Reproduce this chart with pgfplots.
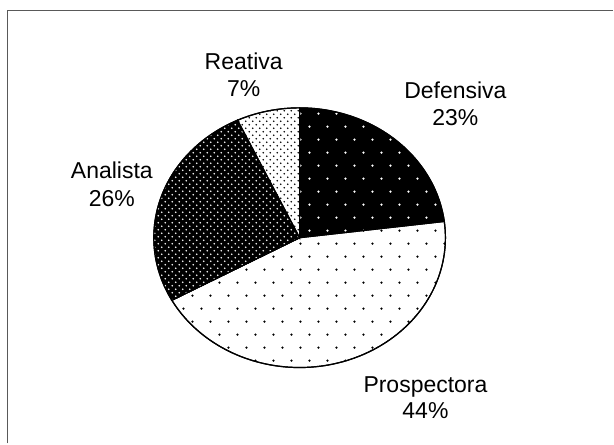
\documentclass[border=0pt]{standalone}
\usepackage{pgfplots}
\pgfplotsset{compat=1.18}
\usepackage{fontspec}
\setmainfont{Liberation Sans}
\usetikzlibrary{patterns}

\pgfdeclarepatternformonly{sparsedots}{\pgfqpoint{0pt}{0pt}}{\pgfqpoint{18pt}{26pt}}{\pgfqpoint{18pt}{26pt}}{%
  \pgfpathcircle{\pgfqpoint{4.5pt}{6.5pt}}{1.25pt}%
  \pgfpathcircle{\pgfqpoint{13.5pt}{19.5pt}}{1.25pt}%
  \pgfusepath{fill}}
\pgfdeclarepatternformonly{densedots}{\pgfqpoint{0pt}{0pt}}{\pgfqpoint{7pt}{7pt}}{\pgfqpoint{7pt}{7pt}}{%
  \pgfpathcircle{\pgfqpoint{1.75pt}{1.75pt}}{0.9pt}%
  \pgfpathcircle{\pgfqpoint{5.25pt}{5.25pt}}{0.9pt}%
  \pgfusepath{fill}}

% values (percent), clockwise from the top
\def\vDef{23}
\def\vPro{44}
\def\vAna{26}
\def\vRea{7}

\begin{document}
\begin{tikzpicture}
\pgfmathsetmacro\aA{90}
\pgfmathsetmacro\aB{90-3.6*\vDef}
\pgfmathsetmacro\aC{\aB-3.6*\vPro}
\pgfmathsetmacro\aD{\aC-3.6*\vAna}
\pgfmathsetmacro\aE{\aD-3.6*\vRea}
\begin{axis}[
  scale only axis, width=614pt, height=444pt,
  xmin=0, xmax=614, ymin=0, ymax=444, y dir=reverse,
  hide axis, clip=false,
  every axis plot/.append style={line width=1.2pt, draw=black, samples=90, variable=\t},
]
\path (axis cs:0,0) rectangle (axis cs:614,444);
% frame
\draw[black!65, line width=1.6pt] (axis cs:7.5,444) -- (axis cs:7.5,10.5) -- (axis cs:614,10.5);

% Defensiva
\addplot[fill=black, postaction={pattern=sparsedots, pattern color=white}, domain=\aB:\aA]
  ({300+146*cos(\t)},{238-130*sin(\t)}) -- (axis cs:300,238) -- cycle;
% Prospectora
\addplot[fill=white, postaction={pattern=sparsedots, pattern color=black}, domain=\aC:\aB]
  ({300+146*cos(\t)},{238-130*sin(\t)}) -- (axis cs:300,238) -- cycle;
% Analista
\addplot[fill=black, postaction={pattern=densedots, pattern color=white}, domain=\aD:\aC]
  ({300+146*cos(\t)},{238-130*sin(\t)}) -- (axis cs:300,238) -- cycle;
% Reativa
\addplot[fill=white, postaction={pattern=densedots, pattern color=black}, domain=\aE:\aD]
  ({300+146*cos(\t)},{238-130*sin(\t)}) -- (axis cs:300,238) -- cycle;

\tikzset{lab/.style={anchor=base, font=\fontsize{23}{27}\selectfont, inner sep=0pt, text=black}}
\node[lab] at (axis cs:456,99) {Defensiva};
\node[lab] at (axis cs:456,126) {23\%};
\node[lab] at (axis cs:426,393) {Prospectora};
\node[lab] at (axis cs:426,419) {44\%};
\node[lab] at (axis cs:112,179) {Analista};
\node[lab] at (axis cs:112,207) {26\%};
\node[lab] at (axis cs:244,70) {Reativa};
\node[lab] at (axis cs:244,97) {7\%};
\end{axis}
\end{tikzpicture}
\end{document}
